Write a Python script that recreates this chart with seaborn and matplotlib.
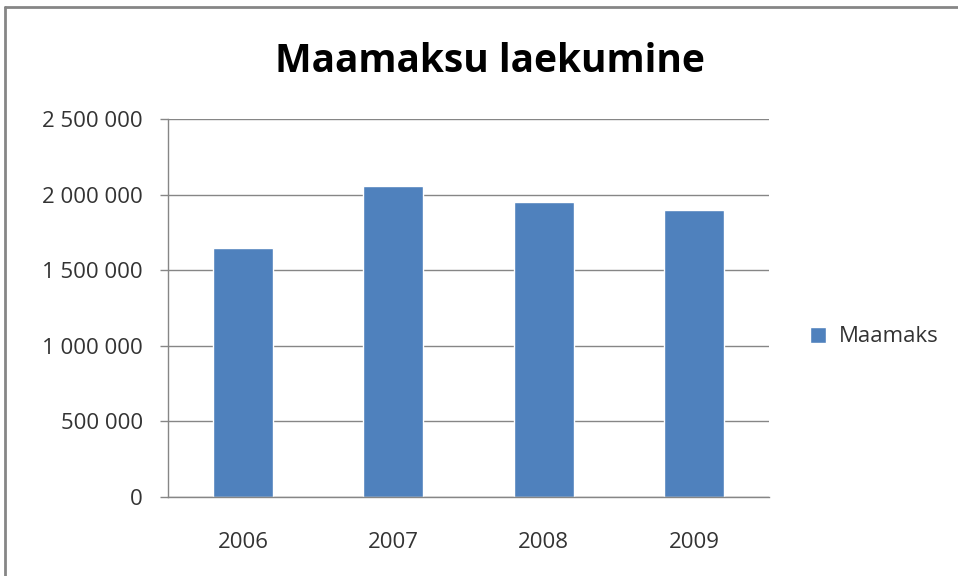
import matplotlib
matplotlib.use("Agg")
import matplotlib.pyplot as plt
import seaborn as sns
import pandas as pd
import numpy as np
from matplotlib.lines import Line2D

years = ["2006", "2007", "2008", "2009"]
values = [1645000, 2055000, 1950000, 1895000]
series_name = "Maamaks"
title = "Maamaksu laekumine"
yticks = [0, 500000, 1000000, 1500000, 2000000, 2500000]

sns.set_theme(style="white")
plt.rcParams["font.family"] = ["Open Sans", "DejaVu Sans"]

df = pd.DataFrame({"year": years, "value": values, "series": series_name})

fig = plt.figure(figsize=(9.58, 5.76), dpi=100)
W, H = 958, 576
ax = fig.add_axes([168 / W, 1 - 497 / H, (769 - 168) / W, (497 - 119) / H])

sns.barplot(data=df, x="year", y="value", hue="series", palette=["#4F81BD"],
            width=0.4, ax=ax, legend=True, saturation=1)

ax.set_ylim(0, 2500000)
ax.set_xlim(-0.5, 3.5)
ax.set_yticks(yticks)
ax.set_yticklabels([f"{v:,}".replace(",", " ") for v in yticks], fontsize=16, color="#333333")
ax.set_xticks(range(len(years)))
ax.set_xticklabels(years, fontsize=16, color="#333333")
ax.tick_params(axis="x", which="major", length=0, pad=25)
ax.set_xticks(np.arange(-0.5, 4.0, 1.0), minor=True)
ax.tick_params(axis="x", which="minor", length=6, width=1, color="#868686", direction="out")
ax.tick_params(axis="y", length=6, width=1, color="#868686", direction="out", pad=12, left=True)
ax.set_xlabel("")
ax.set_ylabel("")
ax.grid(axis="y", color="#868686", linewidth=1)
ax.set_axisbelow(True)
for s in ["top", "right"]:
    ax.spines[s].set_visible(False)
for s in ["left", "bottom"]:
    ax.spines[s].set_color("#868686")
    ax.spines[s].set_linewidth(1)

leg = ax.legend(loc="center left", bbox_to_anchor=(790 / W, 1 - 337 / H),
                bbox_transform=fig.transFigure, frameon=False, fontsize=16,
                handlelength=0.7, handleheight=0.7, handletextpad=0.6)
for t in leg.get_texts():
    t.set_color("#333333")

fig.text(490 / W, 1 - 61 / H, title, ha="center", va="center",
         fontsize=28, fontweight="bold", color="black")

# outer chart border (left and top visible)
fig.add_artist(Line2D([5 / W, 5 / W], [0, 1 - 7 / H], transform=fig.transFigure,
                      color="#868686", linewidth=2))
fig.add_artist(Line2D([5 / W, 1], [1 - 7 / H, 1 - 7 / H], transform=fig.transFigure,
                      color="#868686", linewidth=2))

fig.savefig("out.png", dpi=100)
